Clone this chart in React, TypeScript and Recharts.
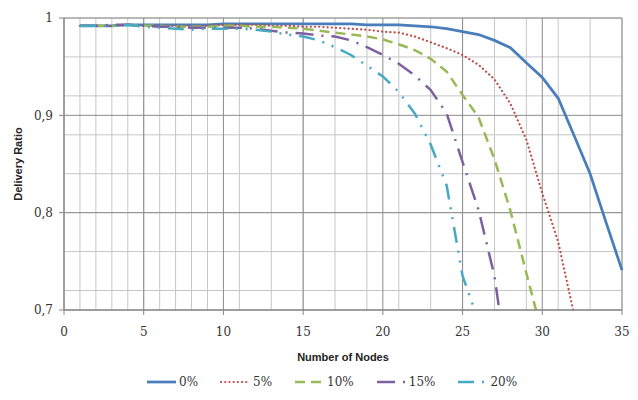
import { LineChart, Line, XAxis, YAxis, CartesianGrid, Legend } from 'recharts'

// x = number of nodes, y = delivery ratio, one list per attacker share
const nodes = [1, 2, 3, 4, 5, 6, 7, 8, 9, 10, 11, 12, 13, 14, 15, 16, 17, 18, 19, 20, 21, 22, 23, 24, 25, 26, 27, 28, 29, 30, 31, 32, 33, 34, 35]

const ratio0 = [0.992, 0.992, 0.992, 0.993, 0.993, 0.993, 0.993, 0.993, 0.993, 0.994, 0.994, 0.994, 0.994, 0.994, 0.994, 0.994, 0.994, 0.994, 0.993, 0.993, 0.993, 0.992, 0.991, 0.989, 0.986, 0.983, 0.977, 0.9695, 0.954, 0.939, 0.9175, 0.879, 0.84, 0.79, 0.741]
const ratio5 = [0.992, 0.992, 0.992, 0.993, 0.992, 0.992, 0.992, 0.992, 0.992, 0.993, 0.993, 0.993, 0.992, 0.992, 0.991, 0.991, 0.99, 0.989, 0.988, 0.986, 0.985, 0.981, 0.975, 0.969, 0.962, 0.952, 0.937, 0.912, 0.875, 0.82, 0.77, 0.695]
const ratio10 = [0.992, 0.992, 0.992, 0.993, 0.992, 0.992, 0.991, 0.991, 0.991, 0.992, 0.992, 0.991, 0.991, 0.99, 0.989, 0.987, 0.985, 0.983, 0.981, 0.978, 0.973, 0.967, 0.958, 0.945, 0.921, 0.898, 0.855, 0.802, 0.738, 0.675]
const ratio15 = [0.992, 0.992, 0.993, 0.993, 0.992, 0.991, 0.991, 0.99, 0.99, 0.99, 0.99, 0.989, 0.987, 0.985, 0.984, 0.982, 0.981, 0.977, 0.97, 0.962, 0.953, 0.941, 0.926, 0.902, 0.852, 0.803, 0.735, 0.62]
const ratio20 = [0.992, 0.992, 0.992, 0.993, 0.991, 0.99, 0.989, 0.988, 0.989, 0.989, 0.989, 0.988, 0.986, 0.983, 0.981, 0.977, 0.97, 0.962, 0.951, 0.94, 0.924, 0.902, 0.87, 0.828, 0.735, 0.689]

const seriesNames = ['0%', '5%', '10%', '15%', '20%']

const xTicks = [0, 5, 10, 15, 20, 25, 30, 35]
const yTicks = [0.7, 0.8, 0.9, 1]
const xMinorTicks = [0, 1, 2, 3, 4, 5, 6, 7, 8, 9, 10, 11, 12, 13, 14, 15, 16, 17, 18, 19, 20, 21, 22, 23, 24, 25, 26, 27, 28, 29, 30, 31, 32, 33, 34, 35]
const yMinorTicks = [0.7, 0.72, 0.74, 0.76, 0.78, 0.8, 0.82, 0.84, 0.86, 0.88, 0.9, 0.92, 0.94, 0.96, 0.98, 1]

const SERIES = [
  { key: 'p0', name: seriesNames[0], values: ratio0, color: '#4A7EBB', dash: undefined, cap: 'butt', width: 2.75 },
  { key: 'p5', name: seriesNames[1], values: ratio5, color: '#BE4B48', dash: '0.1 4.1', cap: 'round', width: 2.2 },
  { key: 'p10', name: seriesNames[2], values: ratio10, color: '#98B954', dash: '10 6', cap: 'butt', width: 2.5 },
  { key: 'p15', name: seriesNames[3], values: ratio15, color: '#7D60A0', dash: '18 8 2 8', cap: 'butt', width: 2.5 },
  { key: 'p20', name: seriesNames[4], values: ratio20, color: '#46AAC5', dash: '16 8 2 8 2 8', cap: 'butt', width: 2.5 },
]

const rows = nodes.map((n, i) => {
  const row: Record<string, number | null> = { nodes: n }
  SERIES.forEach((s) => {
    row[s.key] = s.values[i] ?? null
  })
  return row
})

const SERIF = "'DejaVu Serif', 'Liberation Serif', serif"
const SANS = "'Liberation Sans', Arial, sans-serif"

const fmtY = (v: number) => (v === 1 ? '1' : v.toFixed(1).replace('.', ','))

function LegendRow() {
  return (
    <div style={{ display: 'flex', alignItems: 'center', fontFamily: SERIF, fontSize: 12, color: '#333' }}>
      {SERIES.map((s) => (
        <div key={s.key} style={{ display: 'flex', alignItems: 'center', marginRight: 22 }}>
          <svg width={30} height={8}>
            <line
              x1={1}
              y1={4}
              x2={30}
              y2={4}
              stroke={s.color}
              strokeWidth={s.width}
              strokeDasharray={s.dash}
              strokeLinecap={s.cap as 'butt' | 'round'}
            />
          </svg>
          <span style={{ marginLeft: 3 }}>{s.name}</span>
        </div>
      ))}
    </div>
  )
}

export default function App() {
  return (
    <div>
      <style>{'body{margin:0}'}</style>
      <LineChart width={638} height={400} data={rows} margin={{ top: 18, right: 16, bottom: 30, left: 12 }}>
        <XAxis xAxisId="minor" type="number" dataKey="nodes" domain={[0, 35]} ticks={xMinorTicks} allowDataOverflow hide />
        <YAxis yAxisId="minor" type="number" dataKey="p0" domain={[0.7, 1]} ticks={yMinorTicks} allowDataOverflow hide />
        <CartesianGrid xAxisId="minor" yAxisId="minor" stroke="#c6c6c6" strokeWidth={1} />
        <CartesianGrid stroke="#8c8c8c" strokeWidth={1} />
        <XAxis
          dataKey="nodes"
          type="number"
          domain={[0, 35]}
          ticks={xTicks}
          height={60}
          stroke="#868686"
          tickSize={5}
          tickMargin={12}
          tick={{ fill: '#333', fontSize: 12, fontFamily: SERIF }}
          label={{
            value: 'Number of Nodes',
            position: 'insideTop',
            offset: 43,
            fill: '#222',
            fontSize: 11,
            fontWeight: 'bold',
            fontFamily: SANS,
          }}
        />
        <YAxis
          type="number"
          domain={[0.7, 1]}
          ticks={yTicks}
          allowDataOverflow
          width={52}
          stroke="#868686"
          tickSize={5}
          tickMargin={6}
          tickFormatter={fmtY}
          tick={{ fill: '#333', fontSize: 12, fontFamily: SERIF }}
          label={{
            value: 'Delivery Ratio',
            angle: -90,
            position: 'insideLeft',
            offset: 6,
            fill: '#222',
            fontSize: 11,
            fontWeight: 'bold',
            fontFamily: SANS,
            style: { textAnchor: 'middle' },
          }}
        />
        {SERIES.map((s) => (
          <Line
            key={s.key}
            dataKey={s.key}
            name={s.name}
            type="linear"
            stroke={s.color}
            strokeWidth={s.width}
            strokeDasharray={s.dash}
            strokeLinecap={s.cap as 'butt' | 'round'}
            dot={false}
            activeDot={false}
            isAnimationActive={false}
          />
        ))}
        <Legend
          layout="horizontal"
          verticalAlign="middle"
          align="center"
          wrapperStyle={{ top: 375, left: 146, width: 440 }}
          content={() => <LegendRow />}
        />
      </LineChart>
    </div>
  )
}
